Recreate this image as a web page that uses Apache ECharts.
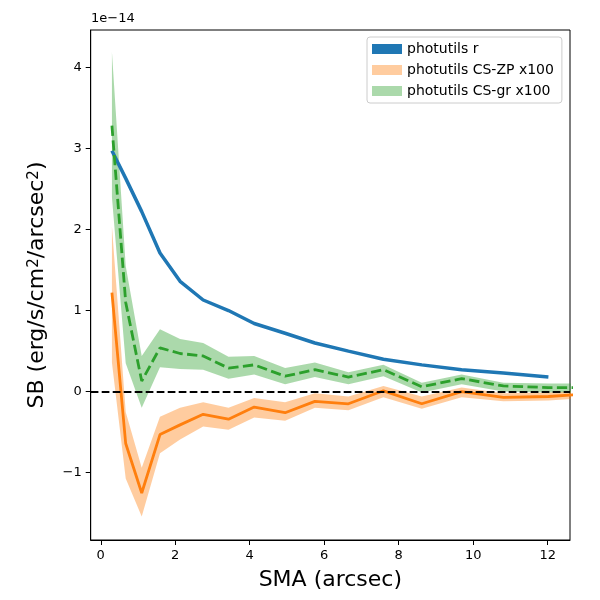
<!DOCTYPE html>
<html>
<head>
<meta charset="utf-8">
<script src="https://cdn.jsdelivr.net/npm/echarts@6/dist/echarts.min.js"></script>
<style>
  html, body { margin: 0; padding: 0; background: #fff; }
  #chart { width: 600px; height: 600px; }
</style>
</head>
<body>
<div id="chart"></div>
<script>
// SMA grid (arcsec), shared by every profile
const sma = [0.30, 0.67, 1.10, 1.59, 2.13, 2.75, 3.43, 4.12, 4.95, 5.75, 6.65, 7.59, 8.62, 9.69, 10.81, 12.02, 13.30];

// photutils r (stops at 12 arcsec)
const sbR = [2.97, 2.63, 2.22, 1.71, 1.36, 1.13, 1.00, 0.84, 0.72, 0.60, 0.50, 0.40, 0.33, 0.27, 0.23, 0.18];

// photutils CS-ZP x100
const zp   = [1.22, -0.64, -1.25, -0.53, -0.41, -0.28, -0.34, -0.19, -0.26, -0.12, -0.15, 0.01, -0.15, 0.00, -0.07, -0.06, -0.02];
const zpHi = [2.04, -0.25, -0.94, -0.31, -0.20, -0.13, -0.20, -0.08, -0.13, -0.02, -0.06, 0.07, -0.06, 0.05, -0.02, -0.01, 0.02];
const zpLo = [0.36, -1.07, -1.54, -0.76, -0.59, -0.43, -0.47, -0.32, -0.36, -0.20, -0.23, -0.07, -0.21, -0.07, -0.12, -0.11, -0.07];

// photutils CS-gr x100
const gr   = [3.28, 1.10, 0.13, 0.54, 0.47, 0.44, 0.29, 0.33, 0.19, 0.27, 0.18, 0.27, 0.06, 0.16, 0.07, 0.05, 0.05];
const grHi = [4.19, 1.55, 0.44, 0.77, 0.65, 0.60, 0.43, 0.44, 0.29, 0.36, 0.24, 0.33, 0.11, 0.21, 0.11, 0.10, 0.10];
const grLo = [2.40, 0.35, -0.20, 0.30, 0.28, 0.27, 0.16, 0.21, 0.09, 0.18, 0.09, 0.19, -0.01, 0.09, 0.00, -0.01, -0.01];

const xTicks = [0, 2, 4, 6, 8, 10, 12];
const yTicks = [-1, 0, 1, 2, 3, 4];

const font = 'DejaVu Sans';
const color_blue = '#1f77b4';
const color_orange = '#ff7f0e';
const color_green = '#2ca02c';
const band_orange = 'rgba(255,127,14,0.4)';
const band_green = 'rgba(44,160,44,0.4)';

function pairs(vals) {
  return vals.map((v, i) => [sma[i], v]);
}

// shaded region between lower and upper, placed with the axis scales
function band(name, lower, upper, fill) {
  return {
    name: name,
    type: 'custom',
    clip: true,
    silent: true,
    z: 1,
    itemStyle: {color: fill},
    data: [[sma[0], upper[0]]],
    renderItem: function (params, api) {
      let pts = [];
      for (let i = 0; i < sma.length; i++) pts.push(api.coord([sma[i], upper[i]]));
      for (let i = sma.length - 1; i >= 0; i--) pts.push(api.coord([sma[i], lower[i]]));
      return {type: 'polygon', shape: {points: pts}, style: {fill: fill}};
    }
  };
}

const chart = echarts.init(document.getElementById('chart'), null, {renderer: 'canvas'});

let option = {
  animation: false,
  textStyle: {fontFamily: font},
  grid: {
    left: 90.7, right: 30, top: 30, bottom: 60,
    show: true, borderColor: '#000', borderWidth: 1, backgroundColor: 'transparent'
  },
  graphic: [
    {type: 'text', left: 91, top: 12, style: {text: '1e\u221214', font: '13px "DejaVu Sans"', fill: '#000'}}
  ],
  legend: {
    orient: 'vertical',
    left: 367, top: 37,
    icon: 'rect',
    itemWidth: 30, itemHeight: 10,
    itemGap: 7,
    padding: [5, 8, 5, 5],
    backgroundColor: '#fff',
    borderColor: '#cccccc',
    borderWidth: 1,
    borderRadius: 3,
    textStyle: {fontFamily: font, fontSize: 14, color: '#000'},
    data: [
      {name: 'photutils r', itemStyle: {color: color_blue}},
      {name: 'photutils CS-ZP x100', itemStyle: {color: band_orange}},
      {name: 'photutils CS-gr x100', itemStyle: {color: band_green}}
    ]
  },
  xAxis: {
    type: 'value',
    min: -0.27, max: 12.6,
    name: 'SMA (arcsec)',
    nameLocation: 'middle',
    nameGap: 29,
    nameTextStyle: {fontFamily: font, fontSize: 22, color: '#000'},
    axisLine: {show: true, onZero: false, lineStyle: {color: '#000'}},
    axisTick: {show: true, length: 5, customValues: xTicks, lineStyle: {color: '#000'}},
    axisLabel: {customValues: xTicks, fontSize: 13, color: '#000', margin: 9},
    splitLine: {show: false}
  },
  yAxis: {
    type: 'value',
    min: -1.83, max: 4.46,
    name: 'SB (erg/s/cm{sup|2}/arcsec{sup|2})',
    nameLocation: 'middle',
    nameGap: 42,
    nameTextStyle: {
      fontFamily: font, fontSize: 22, color: '#000',
      rich: {sup: {fontFamily: font, fontSize: 15, color: '#000', verticalAlign: 'top', lineHeight: 12}}
    },
    axisLine: {show: true, onZero: false, lineStyle: {color: '#000'}},
    axisTick: {show: true, length: 5, customValues: yTicks, lineStyle: {color: '#000'}},
    axisLabel: {
      customValues: yTicks, fontSize: 13, color: '#000', margin: 9,
      formatter: (v) => String(v).replace('-', '\u2212')
    },
    splitLine: {show: false}
  },
  series: [
    band('photutils CS-ZP x100', zpLo, zpHi, band_orange),
    band('photutils CS-gr x100', grLo, grHi, band_green),
    {
      name: 'photutils r',
      type: 'line',
      data: pairs(sbR),
      showSymbol: false,
      z: 3,
      itemStyle: {color: color_blue},
      lineStyle: {color: color_blue, width: 3.5},
      markLine: {
        silent: true,
        symbol: 'none',
        label: {show: false},
        lineStyle: {color: '#000', width: 2, type: [7.7, 3.3]},
        data: [{yAxis: 0}]
      }
    },
    {
      name: 'CS-ZP profile',
      type: 'line',
      data: pairs(zp),
      showSymbol: false,
      z: 3,
      itemStyle: {color: color_orange},
      lineStyle: {color: color_orange, width: 2.8}
    },
    {
      name: 'CS-gr profile',
      type: 'line',
      data: pairs(gr),
      showSymbol: false,
      z: 3,
      itemStyle: {color: color_green},
      lineStyle: {color: color_green, width: 2.8, type: [10.3, 4.4]}
    }
  ]
};

option && chart.setOption(option);
</script>
</body>
</html>
